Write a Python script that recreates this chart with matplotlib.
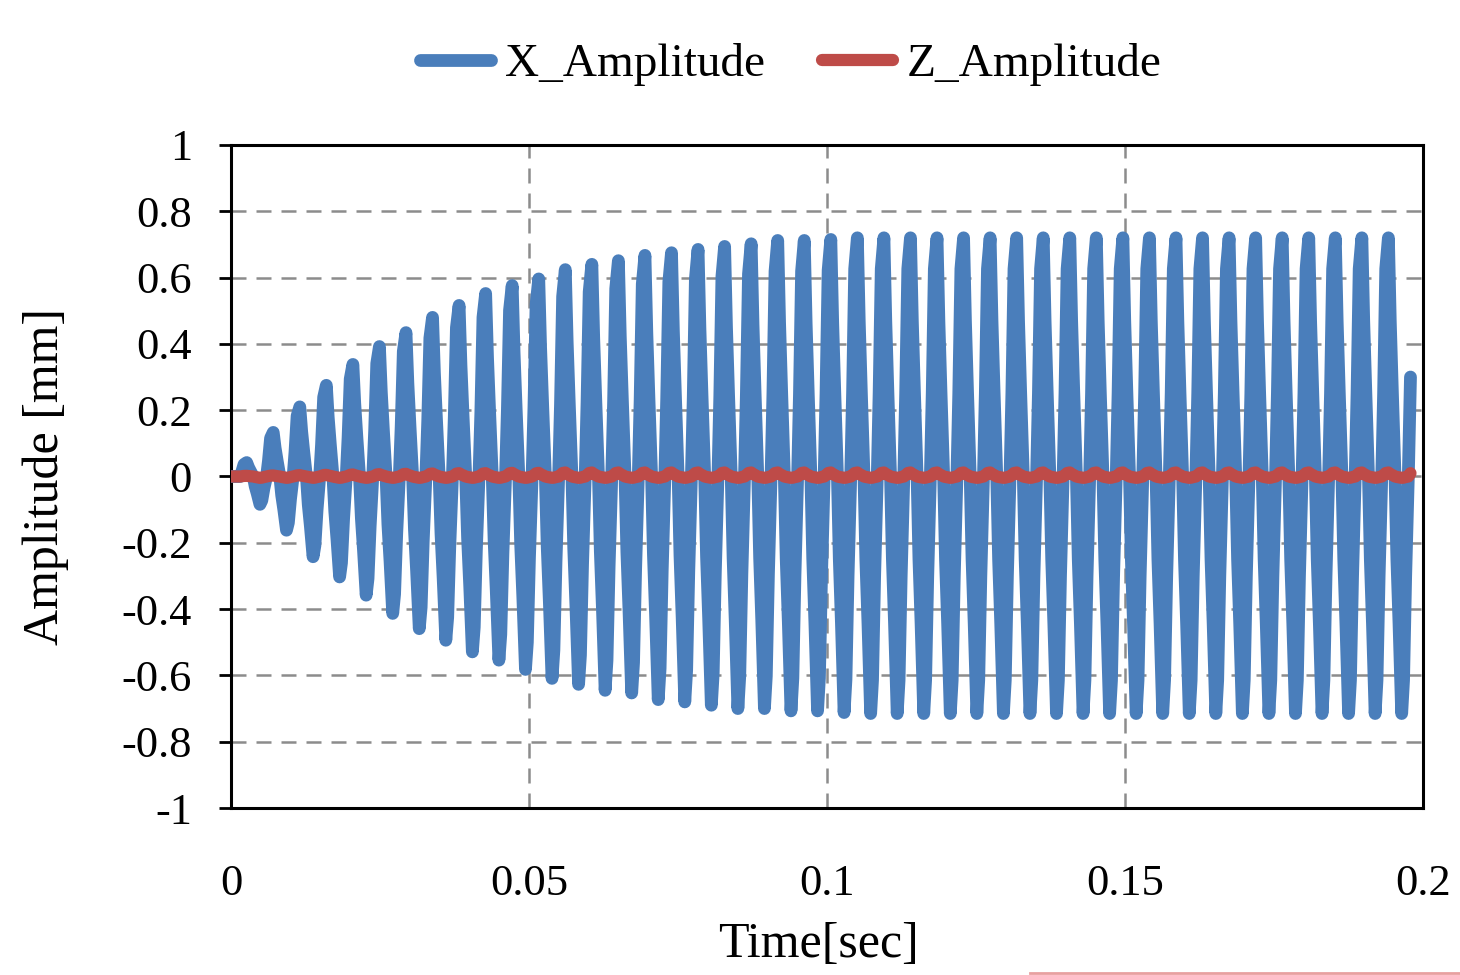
import numpy as np
import matplotlib.pyplot as plt
from matplotlib.lines import Line2D

# values
# peak / trough of each cycle of X (mm), in order of time
x_peaks = [0.042, 0.133, 0.210, 0.275, 0.338, 0.392, 0.434, 0.480, 0.516, 0.552,
           0.576, 0.596, 0.624, 0.640, 0.651, 0.667, 0.675, 0.685, 0.694, 0.702,
           0.712, 0.712, 0.715, 0.720, 0.720, 0.720, 0.720, 0.720, 0.720, 0.720,
           0.720, 0.720, 0.720, 0.720, 0.720, 0.720, 0.720, 0.720, 0.720, 0.720,
           0.720, 0.720, 0.720, 0.720]
x_troughs = [-0.084, -0.162, -0.242, -0.303, -0.358, -0.413, -0.459, -0.494, -0.529, -0.554,
             -0.582, -0.609, -0.627, -0.645, -0.653, -0.673, -0.680, -0.690, -0.700, -0.700,
             -0.707, -0.707, -0.712, -0.715, -0.715, -0.715, -0.715, -0.715, -0.715, -0.715,
             -0.715, -0.715, -0.715, -0.715, -0.715, -0.715, -0.715, -0.715, -0.715, -0.715,
             -0.715, -0.715, -0.715, -0.715]
# Z stays near zero, small bumps at each cycle
z_peaks = [0.002, 0.003, 0.004, 0.005, 0.006, 0.007, 0.008, 0.009, 0.010, 0.010,
           0.011, 0.011, 0.012, 0.012, 0.012, 0.012, 0.012, 0.012, 0.012, 0.012,
           0.012, 0.012, 0.012, 0.012, 0.012, 0.012, 0.012, 0.012, 0.012, 0.012,
           0.012, 0.012, 0.012, 0.012, 0.012, 0.012, 0.012, 0.012, 0.012, 0.012,
           0.012, 0.012, 0.012, 0.012]
z_troughs = [-0.004] * 44

# shape of one sampled cycle (phase, normalised value), read from a steady cycle
cycle_phase = [0.0, 0.07, 0.15, 0.25, 0.32, 0.40, 0.5, 0.57, 0.65, 0.75, 0.82, 0.90]
cycle_shape = [0.0, 0.35, 0.87, 1.0, 0.65, 0.35, 0.0, -0.35, -0.62, -1.0, -0.86, -0.42]

first_peak = 0.00263   # sec
period = 0.004455      # sec
end_time = 0.1979
x_end = 0.30
z_end = 0.01


def build(peaks, troughs, last):
    t = [0.0]
    y = [0.0]
    for n in range(len(peaks)):
        for ph, s in zip(cycle_phase, cycle_shape):
            t.append(first_peak + (n + ph - 0.25) * period)
            y.append(s * peaks[n] if s >= 0 else -s * troughs[n])
    t.append(first_peak + (len(peaks) - 0.25) * period)
    y.append(0.0)
    t.append(end_time)
    y.append(last)
    return np.array(t), np.array(y)


tx, x_amp = build(x_peaks, x_troughs, x_end)
tz, z_amp = build(z_peaks, z_troughs, z_end)

plt.rcParams['font.family'] = ['Liberation Serif', 'DejaVu Serif']

fig = plt.figure(figsize=(14.6, 9.75), dpi=100)
ax = fig.add_axes([231 / 1460, 1 - 808 / 975, (1423 - 231) / 1460, (808 - 145) / 975])

ax.plot(tx, x_amp, color='#4A7EBB', lw=9.2, solid_joinstyle='round',
        solid_capstyle='round', label='X_Amplitude', zorder=3)
ax.plot(tz, z_amp, color='#BE4B48', lw=8.8, solid_joinstyle='round',
        solid_capstyle='round', label='Z_Amplitude', zorder=4)

ax.set_xlim(0, 0.2)
ax.set_ylim(-1, 1)
ax.set_xticks([0, 0.05, 0.1, 0.15, 0.2])
ax.set_xticklabels(['0', '0.05', '0.1', '0.15', '0.2'])
ax.set_yticks(np.arange(-1, 1.01, 0.2))
ax.set_yticklabels(['-1', '-0.8', '-0.6', '-0.4', '-0.2', '0', '0.2', '0.4', '0.6', '0.8', '1'])
ax.tick_params(axis='y', direction='out', length=9, width=2, labelsize=32, pad=19)
ax.tick_params(axis='x', length=0, labelsize=32, pad=40)

ax.grid(True, color='#8c8c8c', lw=1.8, ls=(0, (6, 4)))
ax.set_axisbelow(True)
for sp in ax.spines.values():
    sp.set_linewidth(2.2)
    sp.set_color('black')

ax.set_xlabel('Time[sec]', fontsize=36, labelpad=13)
ax.xaxis.label.set_x(0.4925)
ax.set_ylabel('Amplitude [mm]', fontsize=36, labelpad=38)

ax.legend(loc='lower center', bbox_to_anchor=(0.47, 1.06), ncol=2, frameon=False,
          fontsize=34, handlelength=1.5, handletextpad=0.3, columnspacing=1.2,
          borderaxespad=0)

fig.add_artist(Line2D([1030 / 1460, 1], [2 / 975, 2 / 975], color='#e8a0a0', lw=2))

fig.savefig('out.png', dpi=100)
